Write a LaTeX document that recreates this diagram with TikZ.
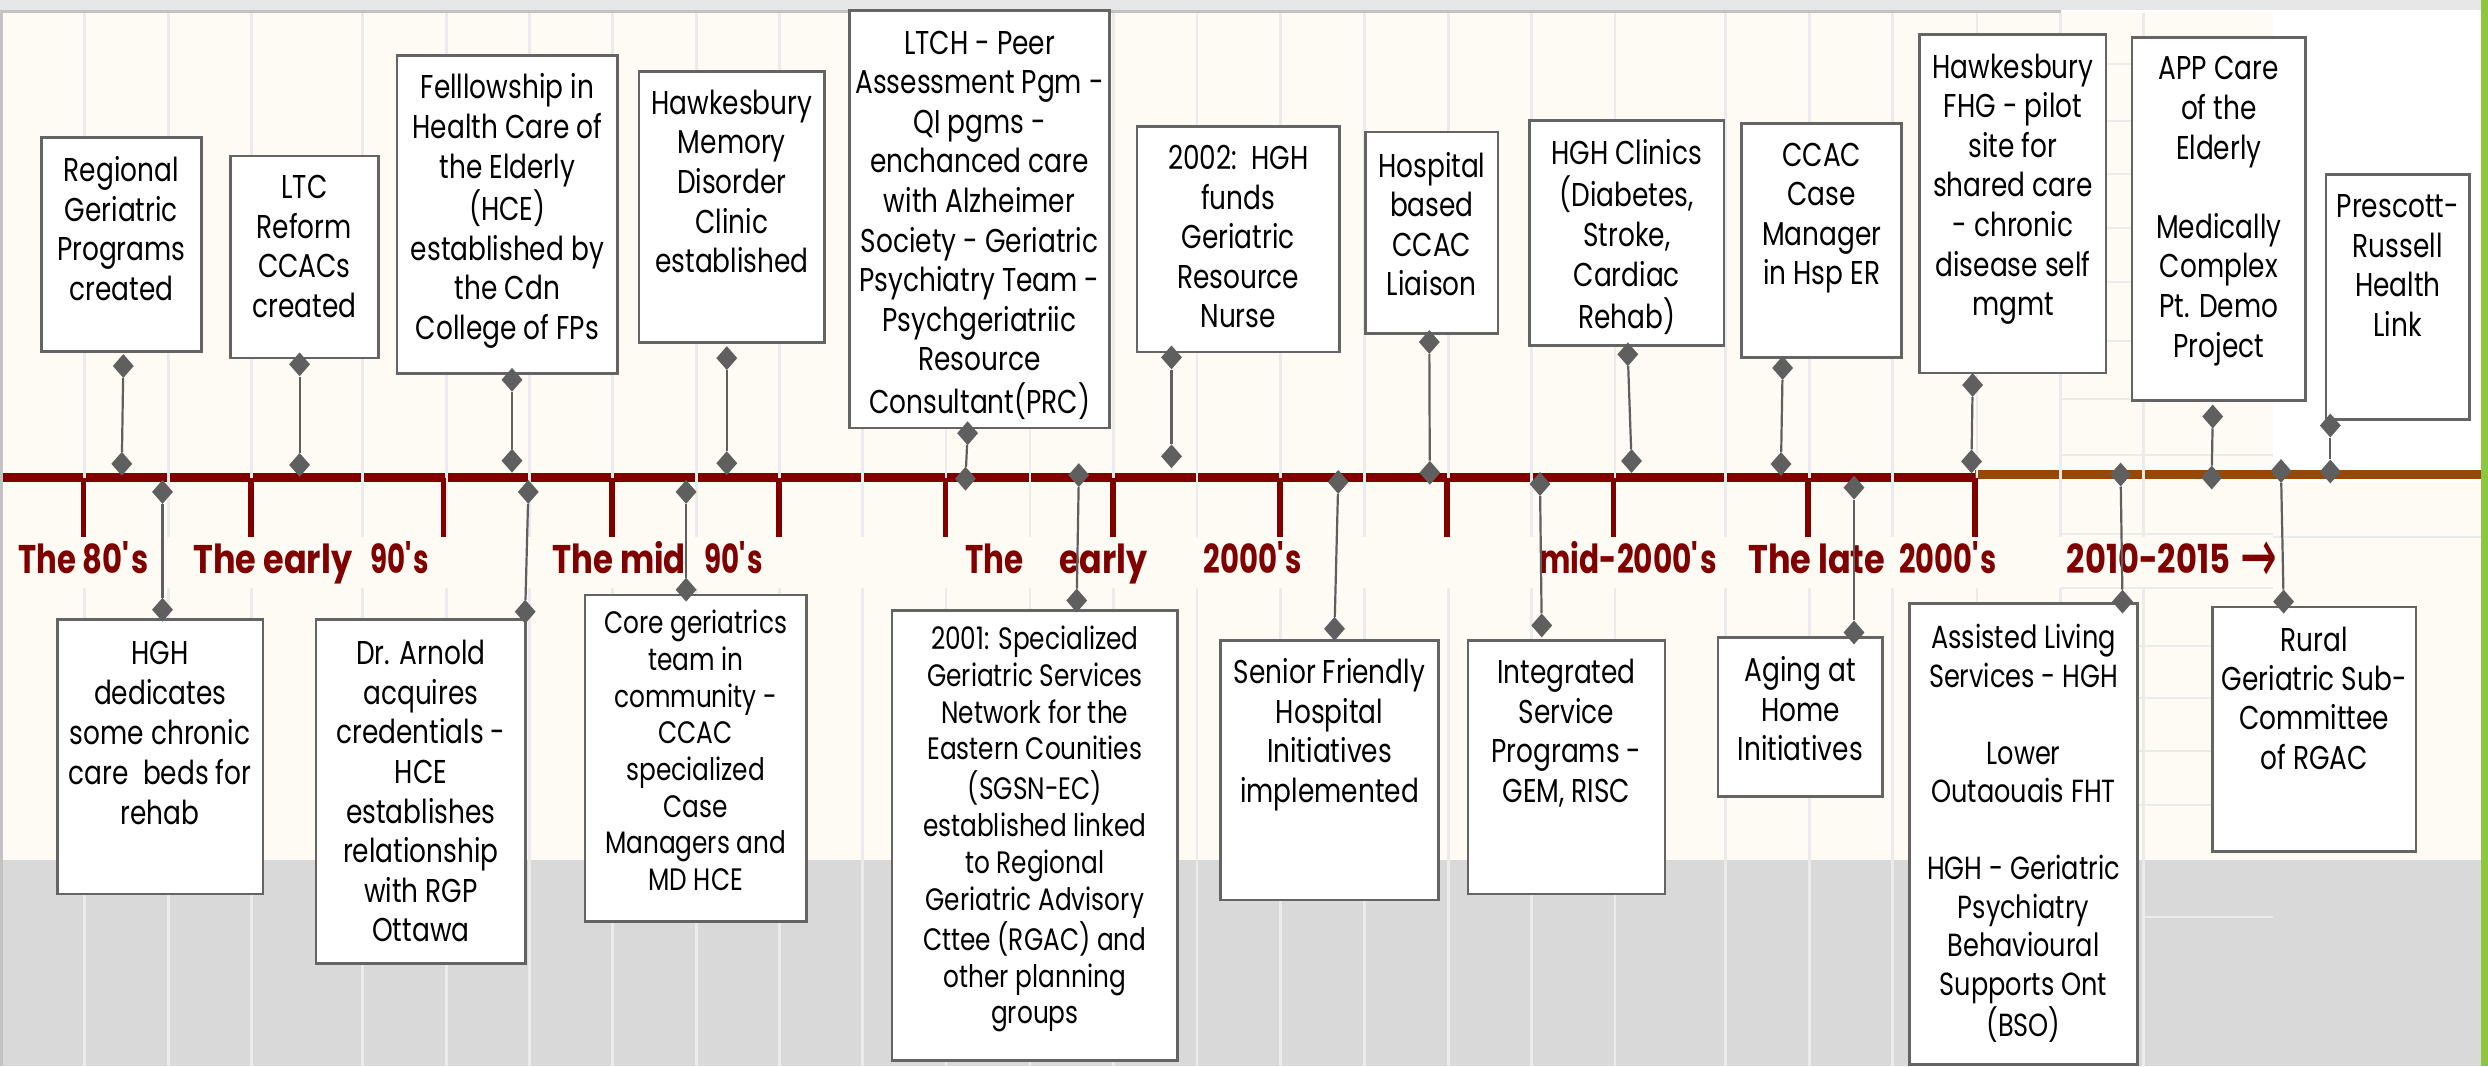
\documentclass[tikz,border=0pt]{standalone}
\usepackage{fontspec}
\usepackage{graphicx}
\setmainfont{Poppins}[FakeStretch=0.8]
\newfontfamily\arrowfont{DejaVu Sans}
\usetikzlibrary{shapes.geometric}
\definecolor{barred}{HTML}{800000}
\definecolor{barbrown}{HTML}{974806}
\definecolor{cream}{HTML}{FEFBF4}
\definecolor{botgray}{HTML}{D9D9D9}
\definecolor{topgray}{HTML}{E7E7E7}
\definecolor{edgegray}{HTML}{C2C2C2}
\definecolor{gridc}{HTML}{EBEBEB}
\definecolor{boxgray}{HTML}{646464}
\definecolor{diagray}{HTML}{5F5F5F}
\definecolor{edgegreen}{HTML}{8DC63F}
% name, x, y (top-left), width, height, top pad, font size, line skip, text
\newcommand\EvBox[9]{%
  \node[evbox, anchor=north west] (#1) at (#2,#3)
    {\parbox[t][#5pt][t]{#4pt}{\vspace*{#6pt}\makebox[#4pt][c]{\fontsize{#7}{#8}\selectfont\begin{tabular}{@{}c@{}}#9\end{tabular}}}};}
% id, upper x, upper y, lower x, lower y
\newcommand\Conn[5]{%
  \node[diam] (u#1) at (#2,#3) {};
  \node[diam] (v#1) at (#4,#5) {};
  \draw[conn] (u#1) -- (v#1);}
% label text set to a given width
\newcommand\LblW[2]{\resizebox{#1pt}{\height}{#2}}
\begin{document}
\begin{tikzpicture}[x=1pt,y=-1pt,
  evbox/.style={draw=boxgray, line width=2.7pt, fill=white, inner sep=0pt, outer sep=0pt},
  diam/.style={diamond, fill=diagray, draw=none, minimum width=21pt, minimum height=24pt, inner sep=0pt},
  conn/.style={draw=diagray, line width=2.2pt},
  gridline/.style={draw=gridc, line width=2.8pt},
  lbl/.style={font=\fontsize{40}{48}\selectfont\bfseries, text=barred, inner sep=0pt, anchor=base west}]
\useasboundingbox (0,0) rectangle (2488,1066);
% ---------- background ----------
\fill[white] (0,0) rectangle (2488,1066);
\fill[topgray] (0,0) rectangle (2481,10);
\fill[cream] (3,12.7) rectangle (2273,860);
\fill[cream] (2273,482) rectangle (2481,860);
\fill[botgray] (3,860) rectangle (2481,1066);
\fill[edgegray] (0,9.6) rectangle (2061,12.7);
\fill[edgegray] (0,9.6) rectangle (3,1066);
\fill[edgegreen] (2481,0) rectangle (2488,1066);
% ---------- timeline bar ----------
\fill[barred] (3,473) rectangle (1974.7,482);
\fill[barbrown] (1974.7,469.5) rectangle (2481,479);
% ---------- table grid ----------
\foreach \gx in {84.7,168.3,251.5,362.6,446.3,529.4,612.5,696.1,779.2,862.8,946,1030,1113.2,1196.9,1280.5,1364.7,1448.3,1531.5,1615,1725.7,1809.3,1892.3,1977,2060.5,2143.5}{
  \draw[gridline] (\gx,12.7) -- (\gx,537);
  \draw[gridline] (\gx,588) -- (\gx,1066);
}
\foreach \gy in {64,121,174,228,282,341,399,455,534,588,646,698,751,805}{
  \draw[gridline] (2061,\gy) -- (2273,\gy);
}
\draw[gridline] (2143,917) -- (2273,917);
\draw[gridline] (2273,537) -- (2481,537);
% ---------- ticks ----------
\foreach \tx in {83.6,250.9,443.6,612,778.7,945.4,1113.2,1280,1446.7,1613.5,1807.8,1974.7}{
  \fill[barred] (\tx-2.8,478) rectangle (\tx+2.8,537);
}
% ---------- period labels ----------
\node[lbl] (p1) at (18.5,573.7) {\LblW{129.7}{The 80\textquotesingle s}};
\node[lbl] (p2a) at (193.2,573.7) {\LblW{158.8}{The early}};
\node[lbl] (p2b) at (370.6,573.7) {\LblW{58.2}{90\textquotesingle s}};
\node[lbl] (p3a) at (552.2,573.7) {\LblW{133.4}{The mid}};
\node[lbl] (p3b) at (704,573.7) {\LblW{58.3}{90\textquotesingle s}};
\node[lbl] (p4a) at (965,573.7) {\LblW{58.2}{The}};
\node[lbl] (p4b) at (1059.2,573.7) {\LblW{88.4}{early}};
\node[lbl] (p5) at (1203.2,573.7) {\LblW{98}{2000\textquotesingle s}};
\node[lbl] (p6) at (1539.4,573.7) {\LblW{177}{mid-2000\textquotesingle s}};
\node[lbl] (p7a) at (1748,573.7) {\LblW{137}{The late}};
\node[lbl] (p7b) at (1899,573.7) {\LblW{97.3}{2000\textquotesingle s}};
\node[lbl] (p8a) at (2066.7,573.7) {\LblW{163.3}{2010-2015}};
\node[lbl] (p8b) at (2240,573.7) {\raisebox{-9pt}{\scalebox{0.57}[1]{\fontsize{77}{77}\selectfont\arrowfont\mdseries →}}};
% ---------- event boxes above ----------
\EvBox{b1}{41.3}{137.7}{160}{214}{16}{33}{39.6}{Regional\\Geriatric\\Programs\\created}
\EvBox{b2}{230.3}{156}{148.2}{202}{15}{33}{39.6}{LTC\\Reform\\CCACs\\created}
\EvBox{b3}{397}{55.8}{220.8}{317.8}{15.3}{33}{39.6}{Felllowship in\\Health Care of\\the Elderly\\(HCE)\\established by\\the Cdn\\College of FPs}
\EvBox{b4}{639}{71.3}{185.8}{271.3}{15.3}{33}{39.6}{Hawkesbury\\Memory\\Disorder\\Clinic\\established}
\EvBox{b5}{849.6}{10.3}{259.9}{417.7}{16}{33}{39.6}{LTCH - Peer\\Assessment Pgm -\\QI pgms -\\enchanced care\\with Alzheimer\\Society - Geriatric\\Psychiatry Team -\\Psychgeriatriic\\Resource\\Consultant(PRC)}
\EvBox{b6}{1137}{126.4}{202.3}{225.5}{15.3}{33}{39.6}{2002:\ \ HGH\\funds\\Geriatric\\Resource\\Nurse}
\EvBox{b7}{1365.7}{131.9}{132.3}{201.4}{17.4}{33}{39.6}{Hospital\\based\\CCAC\\Liaison}
\EvBox{b8}{1529.5}{120.4}{194.5}{225}{16.1}{33}{39.6}{HGH Clinics\\(Diabetes,\\Stroke,\\Cardiac\\Rehab)}
\EvBox{b9}{1741.8}{123.5}{159.8}{234}{14.8}{33}{39.6}{CCAC\\Case\\Manager\\in Hsp ER}
\EvBox{b10}{1919.8}{34.4}{186.3}{338.6}{16}{33}{39.6}{Hawkesbury\\FHG - pilot\\site for\\shared care\\- chronic\\disease self\\mgmt}
\EvBox{b11}{2132}{37.6}{173.5}{363.2}{14.6}{33}{39.6}{APP Care\\of the\\Elderly\\ \\Medically\\Complex\\Pt. Demo\\Project}
\EvBox{b12}{2326}{174.6}{143.5}{244.6}{15.3}{33}{39.6}{Prescott-\\Russell\\Health\\Link}
% ---------- event boxes below ----------
\EvBox{b13}{57.2}{619.6}{205.9}{274.3}{17.1}{33}{39.9}{HGH\\dedicates\\some chronic\\care\ \ beds for\\rehab}
\EvBox{b14}{316}{619.6}{209.7}{344.2}{17.3}{33}{39.6}{Dr. Arnold\\acquires\\credentials -\\HCE\\establishes\\relationship\\with RGP\\Ottawa}
\EvBox{b15}{585}{594.9}{221.3}{326.9}{13}{31}{36.7}{Core geriatrics\\team in\\community -\\CCAC\\specialized\\Case\\Managers and\\MD HCE}
\EvBox{b16}{891.9}{610.5}{285.9}{450.3}{13.3}{31}{36.8}{2001: Specialized\\Geriatric Services\\Network for the\\Eastern Counities\\(SGSN-EC)\\established linked\\to Regional\\Geriatric Advisory\\Cttee (RGAC) and\\other planning\\groups}
\EvBox{b17}{1220.2}{640.4}{218.6}{259.5}{15.6}{33}{39.5}{Senior Friendly\\Hospital\\Initiatives\\implemented}
\EvBox{b18}{1467.9}{640.4}{197}{253.5}{15.6}{33}{39.5}{Integrated\\Service\\Programs -\\GEM, RISC}
\EvBox{b19}{1718}{637.6}{164.8}{158.9}{16.4}{33}{39.6}{Aging at\\Home\\Initiatives}
\EvBox{b20}{1909.2}{603.7}{228.6}{461.1}{18.3}{32}{38.5}{Assisted Living\\Services - HGH\\ \\Lower\\Outaouais FHT\\ \\HGH - Geriatric\\Psychiatry\\Behavioural\\Supports Ont\\(BSO)}
\EvBox{b21}{2212.5}{607}{203.5}{244.5}{16.7}{33}{39.3}{Rural\\Geriatric Sub-\\Committee\\of RGAC}
% ---------- connectors ----------
\Conn{1}{123.3}{366}{121.8}{463.8}
\Conn{2}{299.6}{364.3}{299.6}{464.9}
\Conn{3}{512}{379.8}{512}{460.7}
\Conn{4}{726.8}{358.1}{726.8}{463.2}
\Conn{5}{967.6}{433.2}{965.5}{478.7}
\Conn{6}{1171.5}{357.4}{1171.5}{456.3}
\Conn{7}{1429.3}{342}{1429.8}{472.8}
\Conn{8}{1627.8}{354.3}{1631.5}{461}
\Conn{9}{1782.6}{368}{1781}{464}
\Conn{10}{1972.6}{385}{1971.5}{461.4}
\Conn{11}{2212.7}{416.5}{2211.7}{477.5}
\Conn{12}{2330.3}{425.5}{2330.3}{471.5}
\Conn{13}{162.5}{491.9}{162.5}{609.7}
\Conn{14}{528.3}{491.9}{525.2}{611.7}
\Conn{15}{686.1}{491.9}{686.1}{589.7}
\Conn{16}{1078.8}{475.1}{1076.7}{600.5}
\Conn{17}{1338.2}{481.9}{1334.5}{628.8}
\Conn{18}{1540}{484}{1541.7}{625.4}
\Conn{19}{1854}{487.6}{1854}{632.5}
\Conn{20}{2120.6}{474.5}{2122.5}{601.6}
\Conn{21}{2281}{471}{2283.6}{601.6}
\end{tikzpicture}
\end{document}
